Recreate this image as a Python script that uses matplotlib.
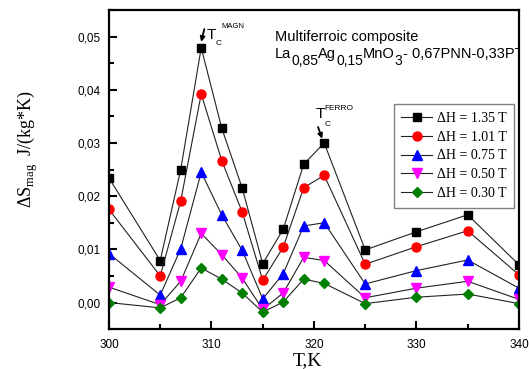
import matplotlib.pyplot as plt
from matplotlib.ticker import MultipleLocator, FuncFormatter

# temperatures, K
temps = [300, 305, 307, 309, 311, 313, 315, 317, 319, 321, 325, 330, 335, 340]

# magnetic entropy change, J/(kg*K)
ds_135 = [0.0234, 0.0079, 0.0250, 0.0479, 0.0328, 0.0215, 0.0073, 0.0138,
          0.0260, 0.0300, 0.0099, 0.0133, 0.0165, 0.0071]
ds_101 = [0.0175, 0.0050, 0.0191, 0.0392, 0.0267, 0.0170, 0.0042, 0.0104,
          0.0216, 0.0239, 0.0072, 0.0105, 0.0135, 0.0052]
ds_075 = [0.0092, 0.0014, 0.0101, 0.0245, 0.0165, 0.0098, 0.0007, 0.0054,
          0.0144, 0.0150, 0.0035, 0.0060, 0.0080, 0.0027]
ds_050 = [0.0029, -0.0004, 0.0040, 0.0130, 0.0090, 0.0046, -0.0013, 0.0018,
          0.0085, 0.0079, 0.0009, 0.0027, 0.0040, 0.0006]
ds_030 = [0.0000, -0.0010, 0.0009, 0.0065, 0.0044, 0.0018, -0.0018, 0.0001,
          0.0044, 0.0036, -0.0002, 0.0010, 0.0016, -0.0002]

series = [ds_135, ds_101, ds_075, ds_050, ds_030]
labels = ["ΔH = 1.35 T", "ΔH = 1.01 T", "ΔH = 0.75 T", "ΔH = 0.50 T", "ΔH = 0.30 T"]
markers = ["s", "o", "^", "v", "D"]
colors = ["black", "red", "blue", "magenta", "green"]
msizes = [5.5, 6.5, 6.5, 6.5, 5.5]

# composition line: (text, is_subscript)
formula = [("La", False), ("0,85", True), ("Ag", False), ("0,15", True),
           ("MnO", False), ("3", True), ("- 0,67PNN-0,33PT", False)]

fig = plt.figure(figsize=(5.29, 3.69), dpi=100)
ax = fig.add_axes([0.206, 0.108, 0.775, 0.865])

for y, lab, m, c, ms in zip(series, labels, markers, colors, msizes):
    ax.plot(temps, y, "-", color="#222222", lw=0.8, marker=m, ms=ms,
            mfc=c, mec=c, label=lab)

ax.set_xlim(300, 340)
ax.set_ylim(-0.005, 0.055)
ax.xaxis.set_major_locator(MultipleLocator(10))
ax.xaxis.set_minor_locator(MultipleLocator(5))
ax.yaxis.set_major_locator(MultipleLocator(0.01))
ax.yaxis.set_minor_locator(MultipleLocator(0.005))
ax.yaxis.set_major_formatter(FuncFormatter(lambda v, p: f"{v:.2f}".replace(".", ",")))

ax.tick_params(which="both", direction="in", width=1.5, labelsize=8.5,
               top=False, right=False)
ax.tick_params(which="major", length=6)
ax.tick_params(which="minor", length=3.5)
ax.tick_params(axis="y", pad=6)
ax.tick_params(axis="x", pad=7)
for lbl in ax.get_xticklabels() + ax.get_yticklabels():
    lbl.set_family("Liberation Sans")
for s in ax.spines.values():
    s.set_linewidth(1.6)

ax.set_xlabel("T,K", family="Liberation Serif", fontsize=14)
ax.xaxis.set_label_coords(0.485, -0.073)
ax.set_ylabel(r"ΔS$_{\mathregular{mag}}$  J/(kg*K)", family="Liberation Serif", fontsize=13)
ax.yaxis.set_label_coords(-0.168, 0.564)

leg = ax.legend(loc="upper right", bbox_to_anchor=(0.988, 0.705),
                prop={"family": "Liberation Serif", "size": 10},
                fancybox=False, framealpha=1, edgecolor="#808080",
                handlelength=2.2, handletextpad=0.35, labelspacing=0.42,
                borderpad=0.55, borderaxespad=0)
leg.get_frame().set_linewidth(1.0)

sans = "Liberation Sans"
ax.text(0.405, 0.903, "Multiferroic composite", transform=ax.transAxes,
        family=sans, fontsize=10.5, va="baseline")

prev = None
for txt, sub in formula:
    yb = 0.828 if sub else 0.850
    size = 10 if sub else 10.5
    if prev is None:
        prev = ax.text(0.405, yb, txt, transform=ax.transAxes, family=sans,
                       fontsize=size, va="baseline", clip_on=True)
    else:
        prev = ax.annotate(txt, xy=(1, yb), xycoords=(prev, "axes fraction"),
                           family=sans, fontsize=size, va="baseline",
                           ha="left", clip_on=True)

# Curie point markers
arrow = dict(arrowstyle="-|>", color="black", lw=1.3, mutation_scale=7,
             shrinkA=0, shrinkB=0)
ax.annotate("", xy=(309.0, 0.0490), xytext=(309.3, 0.0514), arrowprops=arrow)
ax.text(309.55, 0.0503, "T", family=sans, fontsize=11, va="center")
ax.text(310.4, 0.0487, "C", family=sans, fontsize=6, va="center")
ax.text(311.0, 0.0519, "MAGN", family=sans, fontsize=5.5, va="center")

ax.annotate("", xy=(320.8, 0.0308), xytext=(320.4, 0.0330), arrowprops=arrow)
ax.text(320.2, 0.0354, "T", family=sans, fontsize=11, va="center")
ax.text(321.0, 0.0335, "C", family=sans, fontsize=6, va="center")
ax.text(321.0, 0.0364, "FERRO", family=sans, fontsize=6, va="center")

fig.savefig("out.png", dpi=100)
